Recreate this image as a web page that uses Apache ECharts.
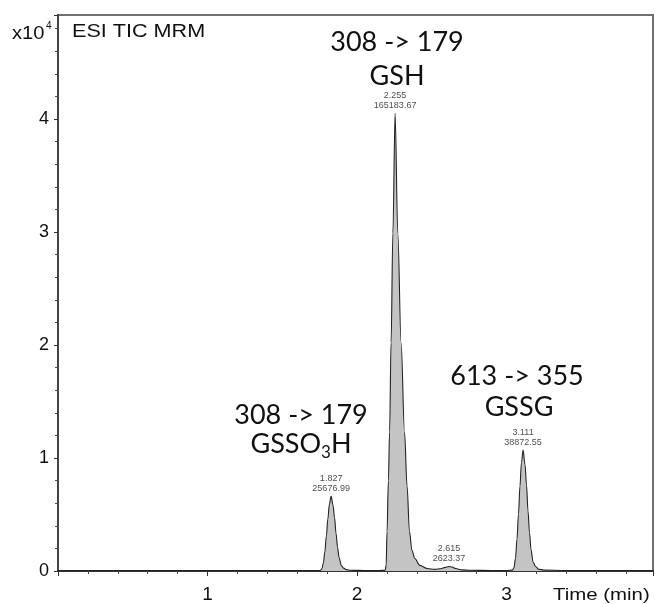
<!DOCTYPE html>
<html>
<head>
<meta charset="utf-8">
<script src="https://cdn.jsdelivr.net/npm/echarts@6/dist/echarts.min.js"></script>
<style>
html,body{margin:0;padding:0;background:#fff;}
#chart{width:655px;height:604px;}
</style>
</head>
<body>
<div id="chart"></div>
<script>
// Chromatogram trace: time (min) and intensity (x10^4 counts)
const times = [
  0.00, 0.40, 0.80, 1.20, 1.55, 1.70,
  1.755, 1.765, 1.775, 1.785, 1.795, 1.805, 1.815, 1.827, 1.840, 1.850, 1.860, 1.870, 1.880, 1.895, 1.910, 1.930, 1.960,
  2.050, 2.150, 2.188, 2.195, 2.201, 2.210, 2.218, 2.228, 2.240, 2.255, 2.273, 2.295, 2.318, 2.335, 2.351, 2.368, 2.387, 2.420, 2.470,
  2.520, 2.560, 2.590, 2.615, 2.635, 2.660, 2.700, 2.760, 2.900,
  3.000, 3.040, 3.050, 3.060, 3.070, 3.080, 3.090, 3.100, 3.111, 3.124, 3.134, 3.144, 3.154, 3.164, 3.178, 3.195, 3.215, 3.250,
  3.400, 3.700, 3.980
];
const intensities = [
  0.004, 0.004, 0.005, 0.004, 0.005, 0.004,
  0.005, 0.02, 0.07, 0.17, 0.31, 0.46, 0.59, 0.66, 0.58, 0.47, 0.33, 0.21, 0.12, 0.05, 0.025, 0.012, 0.006,
  0.005, 0.005, 0.006, 0.05, 0.35, 0.80, 1.23, 2.02, 2.99, 4.05, 2.99, 2.02, 1.23, 0.75, 0.35, 0.18, 0.11, 0.05, 0.022,
  0.014, 0.02, 0.032, 0.04, 0.036, 0.022, 0.010, 0.006, 0.005,
  0.005, 0.008, 0.03, 0.11, 0.28, 0.50, 0.75, 0.96, 1.07, 0.94, 0.76, 0.53, 0.34, 0.19, 0.08, 0.04, 0.016, 0.008,
  0.005, 0.004, 0.004
];

// Integrated peaks
const peakTimes   = [1.827, 2.255, 2.615, 3.111];
const peakHeights = [0.66, 4.05, 0.04, 1.07];
const peakAreas   = [25676.99, 165183.67, 2623.37, 38872.55];

// Annotations
const transitions = ['308 -> 179', '308 -> 179', '613 -> 355'];
const compounds   = ['GSH', 'GSSO3H', 'GSSG'];
const plotTitle = 'ESI TIC MRM';
const xAxisTitle = 'Time (min)';
const yScaleText = 'x10';
const yScaleExp = '4';

const trace = times.map((t, i) => [t, intensities[i]]);
const peaks = peakTimes.map((t, i) => [t, peakHeights[i], peakAreas[i]]);

const chart = echarts.init(document.getElementById('chart'), null, {renderer: 'canvas'});

const annFont = '27px Lato, "Open Sans", sans-serif';
const arialFont = '"Liberation Sans", Arial, sans-serif';

const option = {
  animation: false,
  backgroundColor: '#ffffff',
  grid: {
    left: 58, right: 2, top: 15, bottom: 31,
    show: true, borderColor: '#707070', borderWidth: 2
  },
  xAxis: {
    type: 'value', min: 0, max: 3.98, interval: 1, offset: 4,
    axisLine: {show: true, lineStyle: {color: '#333', width: 2}},
    axisTick: {show: true, length: 5, lineStyle: {color: '#333', width: 1}},
    minorTick: {show: true, splitNumber: 5, length: 3, lineStyle: {color: '#444', width: 1}},
    axisLabel: {showMinLabel: false, showMaxLabel: false, fontSize: 19, color: '#111', margin: 10, fontFamily: arialFont},
    splitLine: {show: false}
  },
  yAxis: {
    type: 'value', min: 0, max: 4.92, interval: 1,
    axisLine: {show: true, lineStyle: {color: '#444', width: 2}},
    axisTick: {show: true, length: 4, lineStyle: {color: '#333', width: 1}},
    minorTick: {show: true, splitNumber: 5, length: 3, lineStyle: {color: '#444', width: 1}},
    axisLabel: {showMaxLabel: false, fontSize: 18, color: '#111', margin: 9, fontFamily: arialFont},
    splitLine: {show: false}
  },
  series: [
    {
      type: 'line',
      data: trace,
      showSymbol: false,
      smooth: 0.35,
      smoothMonotone: 'x',
      lineStyle: {color: '#222', width: 1.1},
      areaStyle: {color: '#c4c4c4', opacity: 1},
      z: 3
    },
    {
      type: 'scatter',
      data: peaks,
      symbolSize: 0,
      silent: true,
      label: {
        show: true, position: 'top', distance: 3,
        fontSize: 9, lineHeight: 10, color: '#1a1a1a', fontFamily: arialFont,
        formatter: p => p.value[0].toFixed(3) + '\n' + p.value[2].toFixed(2)
      },
      z: 4
    }
  ],
  graphic: [
    {type: 'text', x: 12, y: 34, scaleX: 1.12, style: {text: yScaleText, font: '18px ' + arialFont, fill: '#111', verticalAlign: 'middle'}},
    {type: 'text', x: 46, y: 26, style: {text: yScaleExp, font: '10px ' + arialFont, fill: '#111', verticalAlign: 'middle'}},
    {type: 'text', x: 72, y: 32, scaleX: 1.2, style: {text: plotTitle, font: '18px ' + arialFont, fill: '#111', verticalAlign: 'middle'}},
    {type: 'text', x: 553, y: 595, scaleX: 1.2, style: {text: xAxisTitle, font: '17px ' + arialFont, fill: '#111', verticalAlign: 'middle'}},
    {type: 'text', x: 397, y: 42, style: {text: transitions[0], font: annFont, fill: '#111', align: 'center', verticalAlign: 'middle'}},
    {type: 'text', x: 397, y: 76, style: {text: compounds[0], font: annFont, fill: '#111', align: 'center', verticalAlign: 'middle'}},
    {type: 'text', x: 301, y: 415, style: {text: transitions[1], font: annFont, fill: '#111', align: 'center', verticalAlign: 'middle'}},
    {type: 'text', x: 301, y: 446, style: {
      text: '{a|' + compounds[1].slice(0, 4) + '}{b|' + compounds[1].slice(4, 5) + '}{a|' + compounds[1].slice(5) + '}',
      align: 'center', verticalAlign: 'middle',
      rich: {
        a: {font: annFont, fill: '#111', color: '#111', lineHeight: 30, verticalAlign: 'top'},
        b: {font: '17px Lato, "Open Sans", sans-serif', fill: '#111', color: '#111', lineHeight: 17, padding: [18, 0, 0, 0], verticalAlign: 'bottom'}
      }
    }},
    {type: 'text', x: 517, y: 376, style: {text: transitions[2], font: annFont, fill: '#111', align: 'center', verticalAlign: 'middle'}},
    {type: 'text', x: 519, y: 407, style: {text: compounds[2], font: annFont, fill: '#111', align: 'center', verticalAlign: 'middle'}}
  ]
};
chart.setOption(option);
</script>
</body>
</html>
